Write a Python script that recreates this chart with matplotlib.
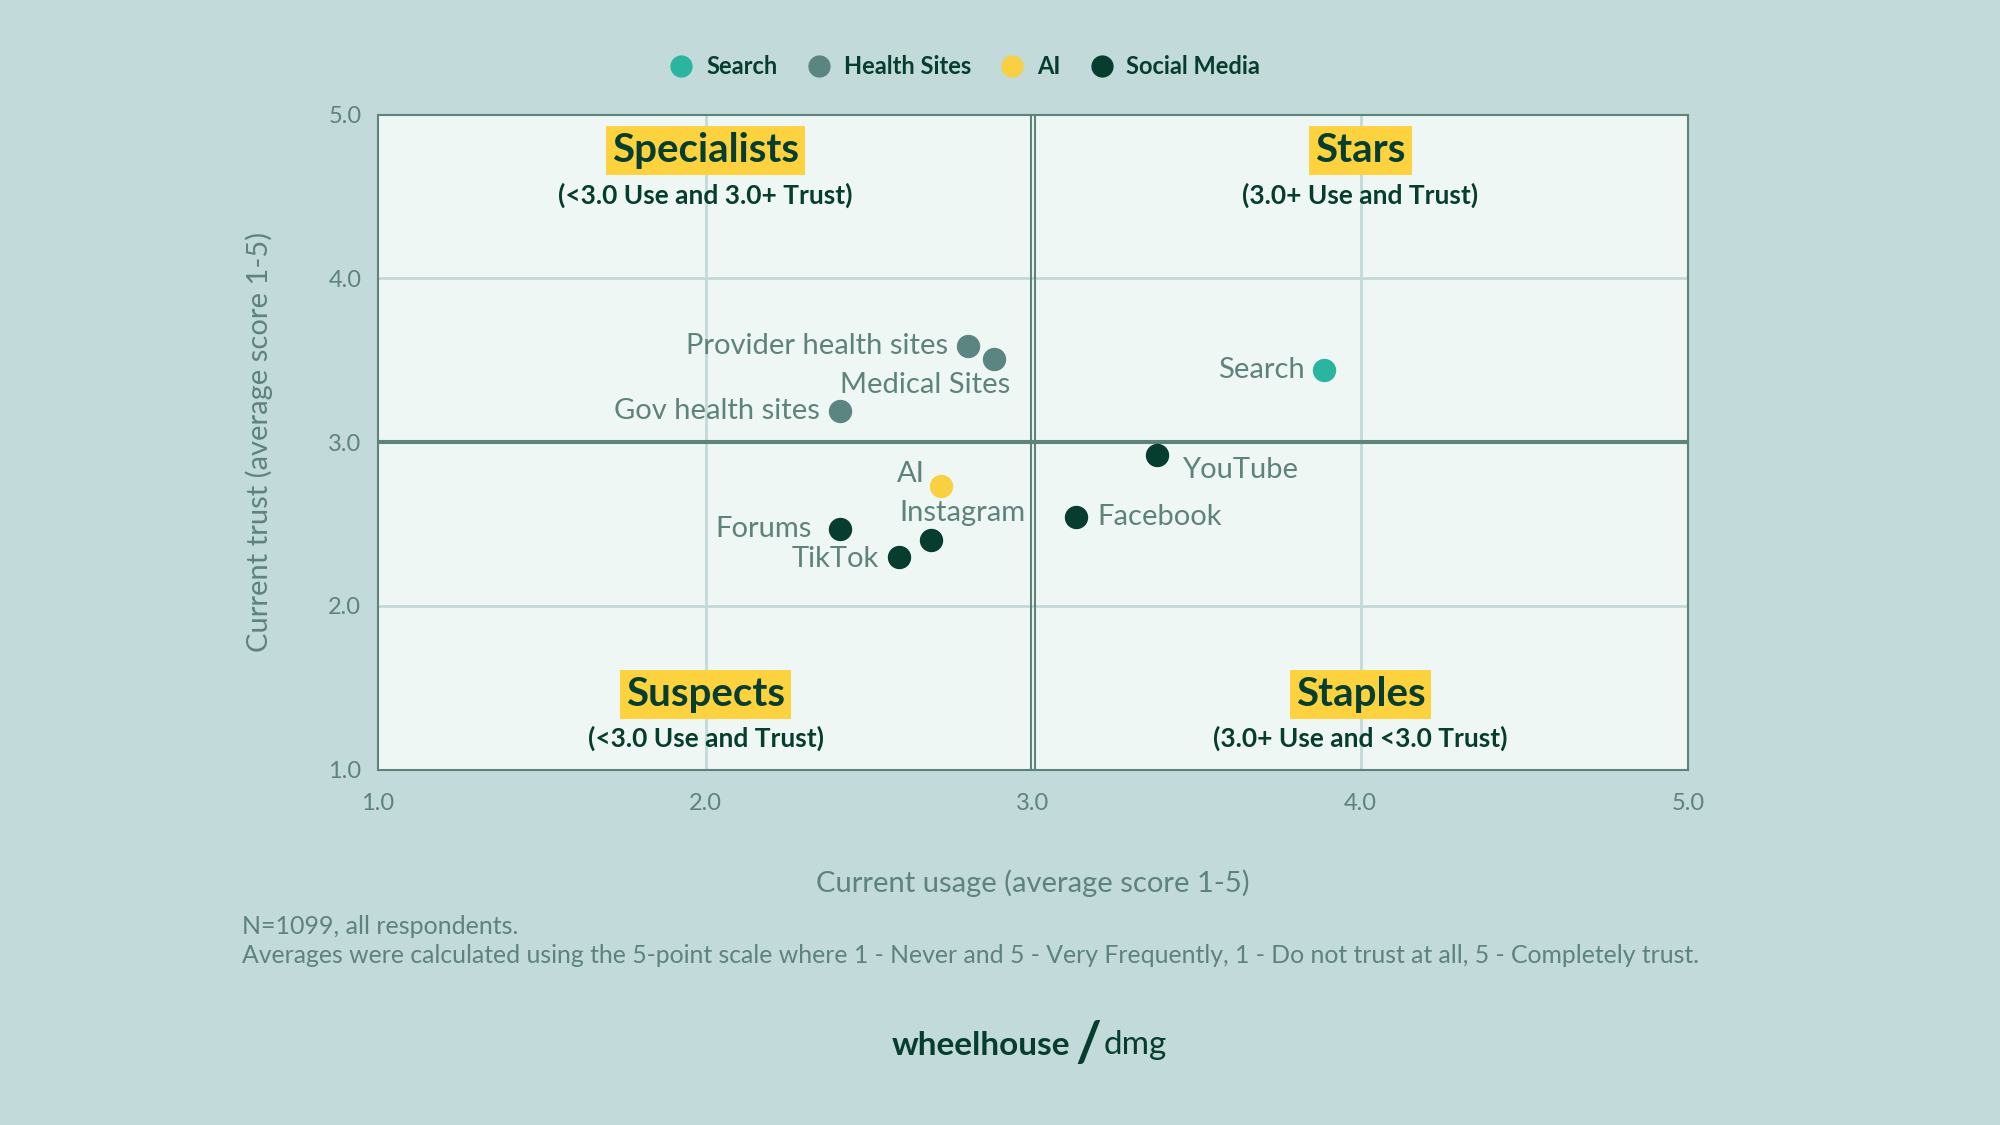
import matplotlib
matplotlib.use("Agg")
import matplotlib.pyplot as plt

names = ["Search", "Provider health sites", "Medical Sites", "Gov health sites", "AI",
         "Forums", "Instagram", "TikTok", "YouTube", "Facebook"]
usage = [3.89, 2.80, 2.88, 2.41, 2.72, 2.41, 2.69, 2.59, 3.38, 3.13]
trust = [3.44, 3.59, 3.51, 3.19, 2.73, 2.47, 2.40, 2.30, 2.92, 2.54]
groups = ["Search", "Health Sites", "Health Sites", "Health Sites", "AI",
          "Social Media", "Social Media", "Social Media", "Social Media", "Social Media"]
group_order = ["Search", "Health Sites", "AI", "Social Media"]
colors = {"Search": "#2bb5a0", "Health Sites": "#5a8580", "AI": "#f9d042", "Social Media": "#063d2e"}
ticks = [1.0, 2.0, 3.0, 4.0, 5.0]

offs = {"Search": (-14, 0, "right"), "Provider health sites": (-14, 0, "right"),
        "Medical Sites": (12, -19, "right"), "Gov health sites": (-14, 0, "right"),
        "AI": (-12, 9, "right"), "Forums": (-20, 0, "right"), "Instagram": (-23, 20, "left"),
        "TikTok": (-14, -2, "right"), "YouTube": (18, -11, "left"), "Facebook": (16, 0, "left")}

BG = "#c2dad9"; TXT = "#5e827c"; DARK = "#063d2e"; YEL = "#fcd33f"
plt.rcParams['font.family'] = ['Lato', 'DejaVu Sans']
fig = plt.figure(figsize=(20, 11.25), dpi=100, facecolor=BG)
ax = fig.add_axes([0.189, 0.316, 0.655, 0.582])
ax.set_facecolor("#eef7f3")
ax.set_xlim(1, 5); ax.set_ylim(1, 5)
for v in [2, 4]:
    ax.axvline(v, color="#c2dad9", lw=2, zorder=0)
    ax.axhline(v, color="#c2dad9", lw=2, zorder=0)
for d in (-0.006, 0.006):
    ax.axvline(3 + d, color="#5e827c", lw=1.5, zorder=1)
    ax.axhline(3 + d * 1.0, color="#5e827c", lw=1.5, zorder=1)
for s in ax.spines.values():
    s.set_color("#5e827c"); s.set_linewidth(1.5)
ax.set_xticks(ticks); ax.set_yticks(ticks)
ax.set_xticklabels([f"{t:.1f}" for t in ticks]); ax.set_yticklabels([f"{t:.1f}" for t in ticks])
ax.tick_params(axis="x", length=0, colors=TXT, labelsize=17, pad=17)
ax.tick_params(axis="y", length=0, colors=TXT, labelsize=17, pad=12)
ax.set_xlabel("Current usage (average score 1-5)", color=TXT, fontsize=21, labelpad=40)
ax.set_ylabel("Current trust (average score 1-5)", color=TXT, fontsize=21, labelpad=40)

for n, u, t, g in zip(names, usage, trust, groups):
    ax.scatter(u, t, s=250, color=colors[g], zorder=3)
    dx, dy, ha = offs[n]
    ax.annotate(n, (u, t), xytext=(dx, dy), textcoords="offset points", ha=ha, va="center",
                fontsize=21, color=TXT, zorder=4)

quads = [(2.0, 4.78, "Specialists", "(<3.0 Use and 3.0+ Trust)"),
         (4.0, 4.78, "Stars", "(3.0+ Use and Trust)"),
         (2.0, 1.46, "Suspects", "(<3.0 Use and Trust)"),
         (4.0, 1.46, "Staples", "(3.0+ Use and <3.0 Trust)")]
for x, y, title, sub in quads:
    ax.text(x, y, title, ha="center", va="center", fontsize=29, fontweight="bold", color=DARK,
            bbox=dict(boxstyle="square,pad=0.15", fc=YEL, ec="none"), zorder=5)
    ax.text(x, y - 0.27, sub, ha="center", va="center", fontsize=19, fontweight="bold", color=DARK, zorder=5)

handles = [plt.Line2D([], [], marker="o", ls="", ms=15, color=colors[g]) for g in group_order]
leg = fig.legend(handles, group_order, loc="center", bbox_to_anchor=(0.481, 0.941), ncol=4,
                 frameon=False, fontsize=17, handletextpad=0.3, columnspacing=1.0, handlelength=1.5)
for t in leg.get_texts():
    t.set_color(DARK); t.set_fontweight("bold")

fig.text(0.121, 0.176, "N=1099, all respondents.", fontsize=18, color=TXT, va="center")
fig.text(0.121, 0.151, "Averages were calculated using the 5-point scale where 1 - Never and 5 - Very Frequently, 1 - Do not trust at all, 5 - Completely trust.",
         fontsize=17.8, color=TXT, va="center")
fig.text(0.535, 0.071, "wheelhouse", fontsize=24, fontweight="bold", color=DARK, ha="right", va="center")
fig.text(0.544, 0.071, "/", fontsize=40, fontweight="bold", color=DARK, ha="center", va="center")
fig.text(0.552, 0.071, "dmg", fontsize=24, color=DARK, ha="left", va="center")
fig.savefig("out.png", dpi=100, facecolor=BG)
